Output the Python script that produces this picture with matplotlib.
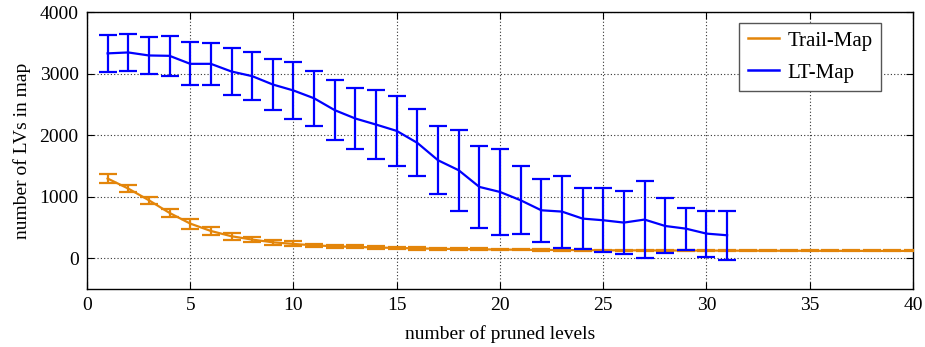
import matplotlib
matplotlib.use("Agg")
import matplotlib.pyplot as plt
from matplotlib.lines import Line2D

levels_lt = list(range(1, 32))
lt_mean = [3330, 3345, 3296, 3290, 3160, 3160, 3035, 2960, 2824, 2727, 2600,
           2407, 2271, 2173, 2070, 1875, 1593, 1431, 1160, 1078, 943, 780,
           759, 645, 618, 580, 629, 525, 482, 401, 374]
lt_err = [306, 297, 303, 322, 352, 336, 382, 393, 412, 461, 447, 485, 496,
          566, 575, 545, 555, 661, 664, 694, 553, 510, 585, 498, 520, 510,
          626, 447, 341, 373, 398]

levels_trail = list(range(1, 41))
trail_mean = [1296, 1133, 943, 737, 564, 444, 358, 304, 260, 233, 210, 195,
              185, 175, 168, 160, 155, 150, 146, 142, 139, 136, 134, 132, 130,
              129, 128, 127, 126, 125, 124, 123, 123, 122, 122, 121, 121, 120,
              120, 120]
trail_err = [70, 60, 55, 70, 80, 65, 57, 43, 41, 40, 30, 28, 25, 22, 20, 18,
             16, 15, 14, 13, 12, 12, 11, 11, 10, 10, 10, 10, 9, 9, 9, 9, 8, 8,
             8, 8, 8, 8, 8, 8]

xticks = [0, 5, 10, 15, 20, 25, 30, 35, 40]
yticks = [0, 1000, 2000, 3000, 4000]
series_labels = ['Trail-Map', 'LT-Map']

plt.rcParams['font.family'] = ['Liberation Serif', 'DejaVu Serif']

fig = plt.figure(figsize=(9.25, 3.47), dpi=100)
ax = fig.add_axes([0.094, 0.167, 0.893, 0.798])

orange = '#E3850A'
blue = '#0000FF'

ax.errorbar(levels_trail, trail_mean, yerr=trail_err, color=orange, lw=1.6,
            elinewidth=1.6, capsize=6.5, capthick=1.6, zorder=3)
ax.errorbar(levels_lt, lt_mean, yerr=lt_err, color=blue, lw=1.6,
            elinewidth=1.6, capsize=6.5, capthick=1.6, zorder=4)

ax.set_xlim(0, 40)
ax.set_ylim(-500, 4000)
ax.set_xticks(xticks)
ax.set_yticks(yticks)
ax.grid(True, linestyle=(0, (1, 2)), color='#333333', linewidth=0.8)
ax.tick_params(direction='in', top=True, right=True, labelsize=14, length=5, pad=6)
for s in ax.spines.values():
    s.set_linewidth(1.0)

ax.set_xlabel('number of pruned levels', fontsize=14, labelpad=8)
ax.set_ylabel('number of LVs in map', fontsize=14, labelpad=6)

handles = [Line2D([], [], color=orange, lw=1.8), Line2D([], [], color=blue, lw=1.8)]
leg = ax.legend(handles, series_labels, loc='upper right', fontsize=15,
                fancybox=False, framealpha=1, edgecolor='#555555',
                handlelength=1.5, handletextpad=0.4, labelspacing=0.6,
                borderpad=0.4, borderaxespad=0.0,
                bbox_to_anchor=(0.961, 0.962))
leg.get_frame().set_linewidth(1.0)

fig.savefig('out.png', dpi=100)
